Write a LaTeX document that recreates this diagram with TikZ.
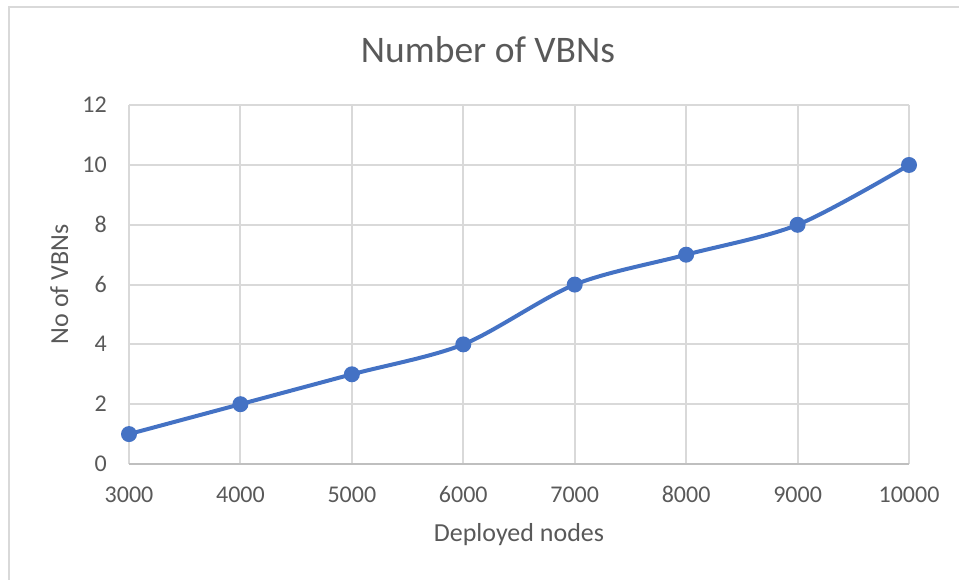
\documentclass[tikz,border=0pt]{standalone}
\usepackage{fontspec}
\setmainfont{Carlito}
\usepackage{xcolor}
\definecolor{linecol}{HTML}{4472C4}
\definecolor{gridcol}{HTML}{D9D9D9}
\definecolor{axiscol}{HTML}{BFBFBF}
\definecolor{textcol}{HTML}{595959}

\begin{document}
\begin{tikzpicture}[x=1pt,y=1pt,
	ticklab/.style={text=textcol,inner sep=0pt,font=\fontsize{24}{28}\selectfont},
	axlab/.style={text=textcol,inner sep=0pt,font=\fontsize{26}{30}\selectfont},
	dot/.style={circle,fill=linecol,inner sep=0pt,minimum size=16pt}]
		\useasboundingbox (0,0) rectangle (959,580);
		\draw[gridcol,line width=2pt] (9,0) -- (9,573) -- (959,573);
	
		\node[text=textcol,inner sep=0pt,anchor=base,
		font=\fontsize{37.5}{42}\selectfont] (title) at (488,517.3) 
		{Number of VBNs};
	
		\begin{scope}[shift={(129pt,116pt)},x=111.43pt,y=29.9pt]
		\foreach \i in {3,...,10}{
			\draw[gridcol,line width=2pt] (\i-3,0) -- (\i-3,12);
			\node[ticklab,anchor=base] (xt\i) at (\i-3,0) 
			[yshift=-38.3pt] {\i000};
		}
		\foreach \j in {2,4,...,12}
			\draw[gridcol,line width=2pt] (0,\j) -- (7,\j);
		\draw[axiscol,line width=2pt] (0,0) -- (7,0);
		\foreach \j in {0,2,...,12}
			\node[ticklab,anchor=base east] (yt\j) at (0,\j) 
			[xshift=-22pt,yshift=-7.6pt] {\j};
	
		\foreach \i/\v in {3/1,4/2,5/3,6/4,7/6,8/7,9/8,10/10}
			\coordinate (p\i) at (\i-3,\v);
		\draw[linecol,line width=4pt,line join=round] plot [smooth,tension=0.5] 
		coordinates {(p3) (p4) (p5) (p6) (p7) (p8) (p9) (p10)};
		\foreach \i in {3,...,10}
			\node[dot] (d\i) at (p\i) {};
		\end{scope}
	
		\node[axlab,anchor=base] (xlab) at (519,38.3) {Deployed nodes};
		\node[axlab,anchor=base,rotate=90] (ylab) at (68,295.5) {No of VBNs};
	\end{tikzpicture}
\end{document}
